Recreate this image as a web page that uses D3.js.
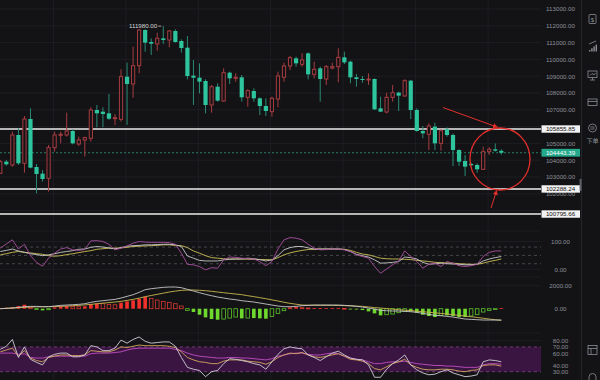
<!DOCTYPE html>
<html><head><meta charset="utf-8">
<script src="https://cdn.jsdelivr.net/npm/d3@7/dist/d3.min.js"></script>
<style>html,body{margin:0;padding:0;background:#131316;overflow:hidden}svg{display:block}</style>
</head><body><svg id="c" width="600" height="380"></svg>
<script>
// ---------- DATA ----------
const open  = [103219,103913,103715,105500,103814,106453,103596,103199,102921,104747,105481,105500,105738,104965,105203,105302,106988,106889,106790,106472,106433,108972,108536,109627,111750,111036,110917,111254,111155,111690,111095,110698,109032,108913,108714,107286,108377,107524,109210,108873,108933,107743,108119,107683,107226,106889,107643,108933,109607,110063,109706,110361,109111,109468,108833,109488,109567,110123,109865,108933,108833,108794,108833,107088,106869,107742,108020,107822,108734,106988,105738,105540,105996,105004,105838,105500,104607,103953,103780,103715,103457,104507,104649,104560];
const high  = [104012,104012,105699,105897,106631,107088,103774,103417,104905,105699,105699,106830,105838,105401,105401,107147,107286,107147,107941,106750,109409,109806,110758,111789,111790,111254,111591,111980,111750,111789,111194,111393,109964,109766,108814,108476,108575,109468,109270,109171,109072,108218,108278,107743,107683,107782,109270,109806,110202,110163,110361,110421,109865,109567,109667,109806,110659,110460,109925,109131,109012,109171,108873,107782,108020,108476,108079,108814,108774,107088,106036,106195,106234,105838,105957,105599,104647,104310,103850,103814,104807,104770,105000,104650];
const low   = [103179,103675,103615,103715,103258,103516,102028,102723,102128,104509,105004,105401,104945,104846,104211,105103,105957,105957,106393,106096,106294,106096,107722,109171,110460,110262,110520,110917,110718,110996,110401,108814,107286,107980,106790,106830,107484,107484,108536,108675,107484,107187,107484,106691,106631,106592,107147,108675,109369,109567,109567,108814,108873,107484,108476,109409,108635,109726,108575,108377,108615,108476,106988,106889,106790,107484,106929,107782,106453,105699,105302,104607,104607,104567,105401,103655,103655,103060,103650,103258,103417,104310,104507,104330];
const close = [103913,103754,105500,103814,106453,103556,103179,102881,104747,105500,105540,105738,105004,105203,105342,106988,106790,106750,106472,106532,108972,108536,109627,111750,110996,110936,111254,111155,111690,111036,110678,109012,108913,108675,107286,108377,107544,109210,108873,108933,107743,108139,107683,107226,106929,107683,109012,109607,110103,109766,109964,109111,109409,108833,109567,109567,110123,109825,108933,108833,108794,108833,107028,106889,107742,108020,107842,108734,106988,105738,105599,106036,105004,105758,105500,104607,103913,103615,103700,103457,104509,104649,104566,104443.39];

const kdjK = [64,68,73,66,61,56,53,49,52,56,61,64,67,72,73,79,82,80,77,73,78,83,85,86,88,88,89,90,90,88,82,48,40,32,30,30,30,34,36,37,37,40,38,35,30,34,49,70,78,82,82,77,73,73,73,73,73,71,64,54,49,44,34,22,23,25,28,44,42,37,25,18,20,22,20,19,18,16,16,18,30,37,42,46];
const kdjD = [52,56,61,64,61,59,56,54,49,47,49,53,56,60,64,67,72,74,76,76,77,79,82,83,84,85,86,88,88,86,85,78,66,58,49,42,40,38,37,37,37,36,36,35,35,34,42,52,59,64,68,71,72,73,73,73,73,72,68,61,55,52,46,40,38,37,37,36,35,32,30,28,25,24,23,22,20,19,18,18,22,28,32,37];
const kdjJ = [76,91,106,73,90,49,25,11,40,58,73,78,70,68,71,102,103,100,90,70,76,84,94,100,98,97,97,97,96,90,58,18,16,10,-2,6,4,34,44,43,40,38,37,28,13,28,73,106,114,112,106,90,76,70,71,73,73,70,64,52,46,40,10,-14,1,16,30,66,46,28,4,18,22,10,28,22,13,10,13,18,46,61,66,66];

const macdDif  = [0,29,58,116,174,203,203,174,174,232,290,319,348,377,435,551,638,696,754,812,928,1073,1218,1421,1653,1740,1798,1856,1885,1885,1827,1682,1537,1392,1247,1131,1015,928,841,783,696,638,580,493,406,319,232,174,174,203,261,290,319,319,319,319,319,290,261,203,145,58,-29,-145,-174,-203,-203,-232,-261,-319,-406,-493,-580,-609,-667,-725,-812,-899,-928,-957,-986,-986,-986,-986];
const macdDea  = [0,29,58,87,116,145,160,170,175,190,203,230,260,290,330,377,430,480,530,580,638,720,810,920,1044,1150,1250,1350,1450,1530,1595,1620,1624,1600,1566,1510,1450,1390,1330,1275,1218,1130,1050,960,870,770,670,560,464,390,319,305,300,295,292,290,280,265,245,225,203,150,100,58,10,-40,-87,-130,-170,-215,-261,-310,-360,-410,-464,-520,-580,-640,-696,-760,-830,-900,-960,-1015];
const macdHist = [58,87,116,232,348,116,-58,-145,-87,116,203,232,203,174,203,406,464,435,377,348,522,638,725,870,1044,899,754,638,551,435,232,-145,-290,-522,-754,-899,-957,-899,-812,-725,-841,-812,-812,-841,-870,-667,-406,-174,87,145,87,58,58,58,58,58,58,29,-58,-58,-116,-232,-406,-580,-522,-464,-348,-232,-232,-348,-522,-638,-725,-580,-580,-638,-725,-725,-638,-522,-290,-145,-58,58];

const rsi6  = [66,71,82,53,70,50,45,41,54,58,60,60,54,54,57,72,70,64,64,68,81,76,82,86,79,76,77,78,78,71,53,37,34,32,22,30,32,43,51,50,48,46,43,41,34,46,58,67,70,68,67,57,53,48,54,60,63,57,52,50,49,41,21,21,34,43,49,57,41,33,28,25,26,30,33,28,25,22,23,25,46,49,48,46];
const rsi12 = [62,65,68,55,64,52,48,46,53,55,57,57,56,56,57,64,63,62,62,65,70,69,71,73,72,72,72,72,71,69,62,53,49,46,45,43,43,47,49,49,49,47,46,45,42,46,53,57,60,59,61,57,54,53,55,57,59,55,50,49,47,43,35,33,38,43,46,50,41,37,34,33,33,34,34,33,31,30,32,33,40,41,41,39];
const rsi24 = [60,60,60,58,59,53,52,52,54,55,55,55,55,55,55,59,60,60,60,61,62,65,67,68,68,68,68,68,68,66,64,60,57,55,54,53,52,52,53,53,52,52,51,50,49,51,55,57,59,60,60,58,57,57,59,60,59,55,52,50,49,46,43,43,45,46,46,47,45,43,42,41,40,40,39,39,38,37,37,37,41,43,43,42];

const priceGrid  = [113000,112000,111000,110000,109000,108000,107000,106000,105000,104000,103000,102000,101000];
const priceTicks = [113000,112000,111000,110000,109000,108000,107000,105000,104000,103000,102000];
const keyLevels  = [105855.85, 102288.24, 100795.66];
const lastPrice  = 104443.39;
const highLabel  = "111980.00";
const highIndex  = 27;
const kdjTicks   = [100, 0];
const kdjBands   = [80, 50, 20];
const macdTicks  = [2000, 0];
const rsiTicks   = [80, 70, 60, 40, 30];
const rsiBand    = [70, 30];

// ---------- LAYOUT ----------
const svg = d3.select("#c");
const W = 600, H = 380, plotW = 541, labelX = 560.5;
const bg = "#131316", gridC = "#1d1e23";
const font = "'Liberation Sans', Arial, sans-serif";
const n = close.length;

const x = d3.scaleLinear().domain([0, n - 1]).range([0.3, 501.3]);
const yP = d3.scaleLinear().domain([100000, 113000]).range([227.4, 9]);
const yK = d3.scaleLinear().domain([0, 100]).range([269.3, 241.5]);
const yM = d3.scaleLinear().domain([0, 2000]).range([308.7, 285.7]);
const yR = d3.scaleLinear().domain([30, 80]).range([371.7, 340.7]);

svg.append("rect").attr("width", W).attr("height", H).attr("fill", bg);

// grids
const gGrid = svg.append("g");
gGrid.selectAll("line.h").data(priceGrid).join("line")
  .attr("x1", 0).attr("x2", plotW).attr("y1", d => yP(d)).attr("y2", d => yP(d))
  .attr("stroke", gridC).attr("stroke-width", 1);
const vIdx = d3.range(8.8, n, 12);
gGrid.selectAll("line.v").data(vIdx).join("line")
  .attr("x1", d => x(d)).attr("x2", d => x(d)).attr("y1", 0).attr("y2", H)
  .attr("stroke", gridC).attr("stroke-width", 1);
[231, 277, 333].forEach(yy => gGrid.append("line").attr("x1", 0).attr("x2", plotW)
  .attr("y1", yy).attr("y2", yy).attr("stroke", "#1a1b20"));
[yK(100), yK(0), yM(2000), yR(80)].forEach(yy => gGrid.append("line").attr("x1", 0).attr("x2", plotW)
  .attr("y1", yy).attr("y2", yy).attr("stroke", gridC));

// key level lines
svg.append("g").selectAll("line").data(keyLevels).join("line")
  .attr("x1", 0).attr("x2", plotW).attr("y1", d => yP(d)).attr("y2", d => yP(d))
  .attr("stroke", "#ececec").attr("stroke-width", 1.6);

// last price dashed
svg.append("line").attr("x1", 0).attr("x2", plotW).attr("y1", yP(lastPrice)).attr("y2", yP(lastPrice))
  .attr("stroke", "#2a9a80").attr("stroke-width", 0.8).attr("stroke-dasharray", "2,2");

// candles
const upC = "#a73c40", dnC = "#2ec49e", dnWick = "#2a8a74";
const bw = 4.2;
const gC = svg.append("g");
const idx = d3.range(n);
gC.selectAll("line.w").data(idx).join("line")
  .attr("x1", i => x(i)).attr("x2", i => x(i))
  .attr("y1", i => yP(high[i])).attr("y2", i => yP(low[i]))
  .attr("stroke", i => close[i] >= open[i] ? upC : dnWick).attr("stroke-width", 1);
gC.selectAll("rect.b").data(idx).join("rect")
  .attr("x", i => x(i) - bw / 2 + (close[i] >= open[i] ? 0.5 : 0))
  .attr("width", i => close[i] >= open[i] ? bw - 1 : bw)
  .attr("y", i => yP(Math.max(open[i], close[i])))
  .attr("height", i => Math.max(1, Math.abs(yP(open[i]) - yP(close[i]))))
  .attr("fill", i => close[i] >= open[i] ? bg : dnC)
  .attr("stroke", i => close[i] >= open[i] ? upC : "none").attr("stroke-width", 1);

// high label
const hy = yP(high[highIndex]);
svg.append("text").attr("x", x(highIndex) - 6).attr("y", hy).attr("dy", "0.35em")
  .attr("text-anchor", "end").attr("font-family", font).attr("font-size", 6.2)
  .attr("fill", "#d6d6d6").text(highLabel);
svg.append("line").attr("x1", x(highIndex) - 5.2).attr("x2", x(highIndex) - 2)
  .attr("y1", hy).attr("y2", hy).attr("stroke", "#d6d6d6").attr("stroke-width", 0.7);

// ---------- KDJ ----------
svg.append("g").selectAll("line").data(kdjBands).join("line")
  .attr("x1", 0).attr("x2", plotW).attr("y1", d => yK(d)).attr("y2", d => yK(d))
  .attr("stroke", "#5b5c61").attr("stroke-width", 0.7).attr("stroke-dasharray", "3,3");
const lineOf = (arr, ys) => d3.line().x((d, i) => x(i)).y(d => ys(d))(arr);
const addLine = (arr, ys, c) => svg.append("path").attr("d", lineOf(arr, ys))
  .attr("fill", "none").attr("stroke", c).attr("stroke-width", 0.9).attr("stroke-linejoin", "round");
addLine(kdjD, yK, "#cdbf55");
addLine(kdjK, yK, "#c9c9cc");
addLine(kdjJ, yK, "#a9509f");

// ---------- MACD ----------
const hw = 3.6;
svg.append("g").selectAll("rect").data(idx).join("rect")
  .attr("x", i => x(i) - hw / 2)
  .attr("width", hw)
  .attr("y", i => Math.min(yM(macdHist[i]), yM(0)))
  .attr("height", i => Math.max(0.8, Math.abs(yM(macdHist[i]) - yM(0))))
  .attr("fill", i => {
    const v = macdHist[i], p = i > 0 ? macdHist[i - 1] : 0;
    const grow = Math.abs(v) >= Math.abs(p);
    if (v >= 0) return grow ? "#f0312c" : bg;
    return grow ? "#6fd82e" : bg;
  })
  .attr("stroke", i => {
    const v = macdHist[i], p = i > 0 ? macdHist[i - 1] : 0;
    const grow = Math.abs(v) >= Math.abs(p);
    if (grow) return "none";
    return v >= 0 ? "#d8392f" : "#5cc52a";
  }).attr("stroke-width", 0.8);
addLine(macdDea, yM, "#c8b54e");
addLine(macdDif, yM, "#c6c6c8");

// ---------- RSI ----------
svg.append("rect").attr("x", 0).attr("width", plotW)
  .attr("y", yR(rsiBand[0])).attr("height", yR(rsiBand[1]) - yR(rsiBand[0]))
  .attr("fill", "#3a1542");
svg.append("g").selectAll("line").data(rsiBand).join("line")
  .attr("x1", 0).attr("x2", plotW).attr("y1", d => yR(d)).attr("y2", d => yR(d))
  .attr("stroke", "#8c4a8f").attr("stroke-width", 0.7).attr("stroke-dasharray", "3,3");
addLine(rsi24, yR, "#c24ec4");
addLine(rsi12, yR, "#d3a85c");
addLine(rsi6, yR, "#cfcfd6");

// ---------- AXES ----------
function rightAxis(scale, ticks, fmt) {
  const g = svg.append("g").attr("transform", `translate(${labelX},0)`)
    .call(d3.axisRight(scale).tickValues(ticks).tickSize(0).tickPadding(0).tickFormat(fmt));
  g.select(".domain").remove();
  g.selectAll("text").attr("x", 0).attr("text-anchor", "middle")
    .attr("font-family", font).attr("font-size", 6.2).attr("fill", "#8e9098");
  return g;
}
const f2 = d3.format(".2f");
rightAxis(yP, priceTicks, f2);
rightAxis(yK, kdjTicks, f2);
rightAxis(yM, macdTicks, f2);
rightAxis(yR, rsiTicks, f2);

// level boxes
const boxes = svg.append("g");
keyLevels.forEach(v => {
  boxes.append("rect").attr("x", 541.5).attr("y", yP(v) - 3.7).attr("width", 38.5).attr("height", 7.4)
    .attr("fill", "#f2f2f2");
  boxes.append("text").attr("x", labelX).attr("y", yP(v)).attr("dy", "0.35em")
    .attr("text-anchor", "middle").attr("font-family", font).attr("font-size", 6.2)
    .attr("fill", "#111").text(f2(v));
});
boxes.append("rect").attr("x", 541.5).attr("y", yP(lastPrice) - 3.9).attr("width", 38.5).attr("height", 7.8)
  .attr("fill", "#25a98c");
boxes.append("text").attr("x", labelX).attr("y", yP(lastPrice)).attr("dy", "0.35em")
  .attr("text-anchor", "middle").attr("font-family", font).attr("font-size", 6.2)
  .attr("fill", "#ffffff").text(f2(lastPrice));

// ---------- ANNOTATIONS ----------
const red = "#e3302b";
const defs = svg.append("defs");
defs.append("marker").attr("id", "ah").attr("viewBox", "0 0 10 10").attr("refX", 8).attr("refY", 5)
  .attr("markerWidth", 5).attr("markerHeight", 5).attr("orient", "auto")
  .append("path").attr("d", "M0,0 L10,5 L0,10 z").attr("fill", red);
svg.append("ellipse").attr("cx", 500).attr("cy", 159).attr("rx", 30).attr("ry", 31)
  .attr("fill", "none").attr("stroke", red).attr("stroke-width", 1.3);
svg.append("line").attr("x1", 443).attr("y1", 107.5).attr("x2", 497).attr("y2", 127)
  .attr("stroke", red).attr("stroke-width", 1).attr("marker-end", "url(#ah)");
svg.append("line").attr("x1", 491).attr("y1", 208).attr("x2", 496.5).attr("y2", 191)
  .attr("stroke", red).attr("stroke-width", 1).attr("marker-end", "url(#ah)");

// ---------- RIGHT TOOLBAR ----------
svg.append("line").attr("x1", 581.5).attr("x2", 581.5).attr("y1", 0).attr("y2", H).attr("stroke", "#25262b");
svg.append("rect").attr("x", 579.6).attr("y", 179).attr("width", 2).attr("height", 12).attr("fill", "#5e6168");
const ic = svg.append("g").attr("stroke", "#8b8e96").attr("fill", "none").attr("stroke-width", 0.8);
ic.append("rect").attr("x", 589).attr("y", 14.5).attr("width", 7).attr("height", 9).attr("rx", 1);
svg.append("text").attr("x", 592.5).attr("y", 21.5).attr("text-anchor", "middle").attr("font-size", 6)
  .attr("font-family", font).attr("fill", "#8b8e96").text("$");
[0, 1, 2, 3].forEach(k => ic.append("rect").attr("x", 589 + k * 2.2).attr("y", 50 - k * 1.8)
  .attr("width", 1.4).attr("height", 1.5 + k * 1.8).attr("fill", "#8b8e96").attr("stroke", "none"));
ic.append("path").attr("d", "M589 44 L596 41");
ic.append("rect").attr("x", 588).attr("y", 71).attr("width", 9).attr("height", 6.5);
ic.append("path").attr("d", "M592.5 77.5 V80 M590 80 H595 M590 75.5 L592 73.5 L594 75 L595.5 73");
ic.append("rect").attr("x", 588).attr("y", 99).attr("width", 9).attr("height", 6.5);
ic.append("path").attr("d", "M588 101.5 H597");
ic.append("circle").attr("cx", 592.5).attr("cy", 128).attr("r", 4);
ic.append("path").attr("d", "M590.5 127 H594.5 M590.5 129 H594.5");
svg.append("text").attr("x", 592.5).attr("y", 142.5).attr("text-anchor", "middle").attr("font-size", 6)
  .attr("font-family", "'Noto Sans CJK SC', sans-serif").attr("fill", "#8b8e96").text("下单");
ic.append("rect").attr("x", 588).attr("y", 345.5).attr("width", 9).attr("height", 9);
ic.append("path").attr("d", "M588 348.5 H597 M591 348.5 V354.5");
ic.append("path").attr("d", "M589 382 V377 A3.5 3.5 0 0 1 596 377 V382");
</script></body></html>
